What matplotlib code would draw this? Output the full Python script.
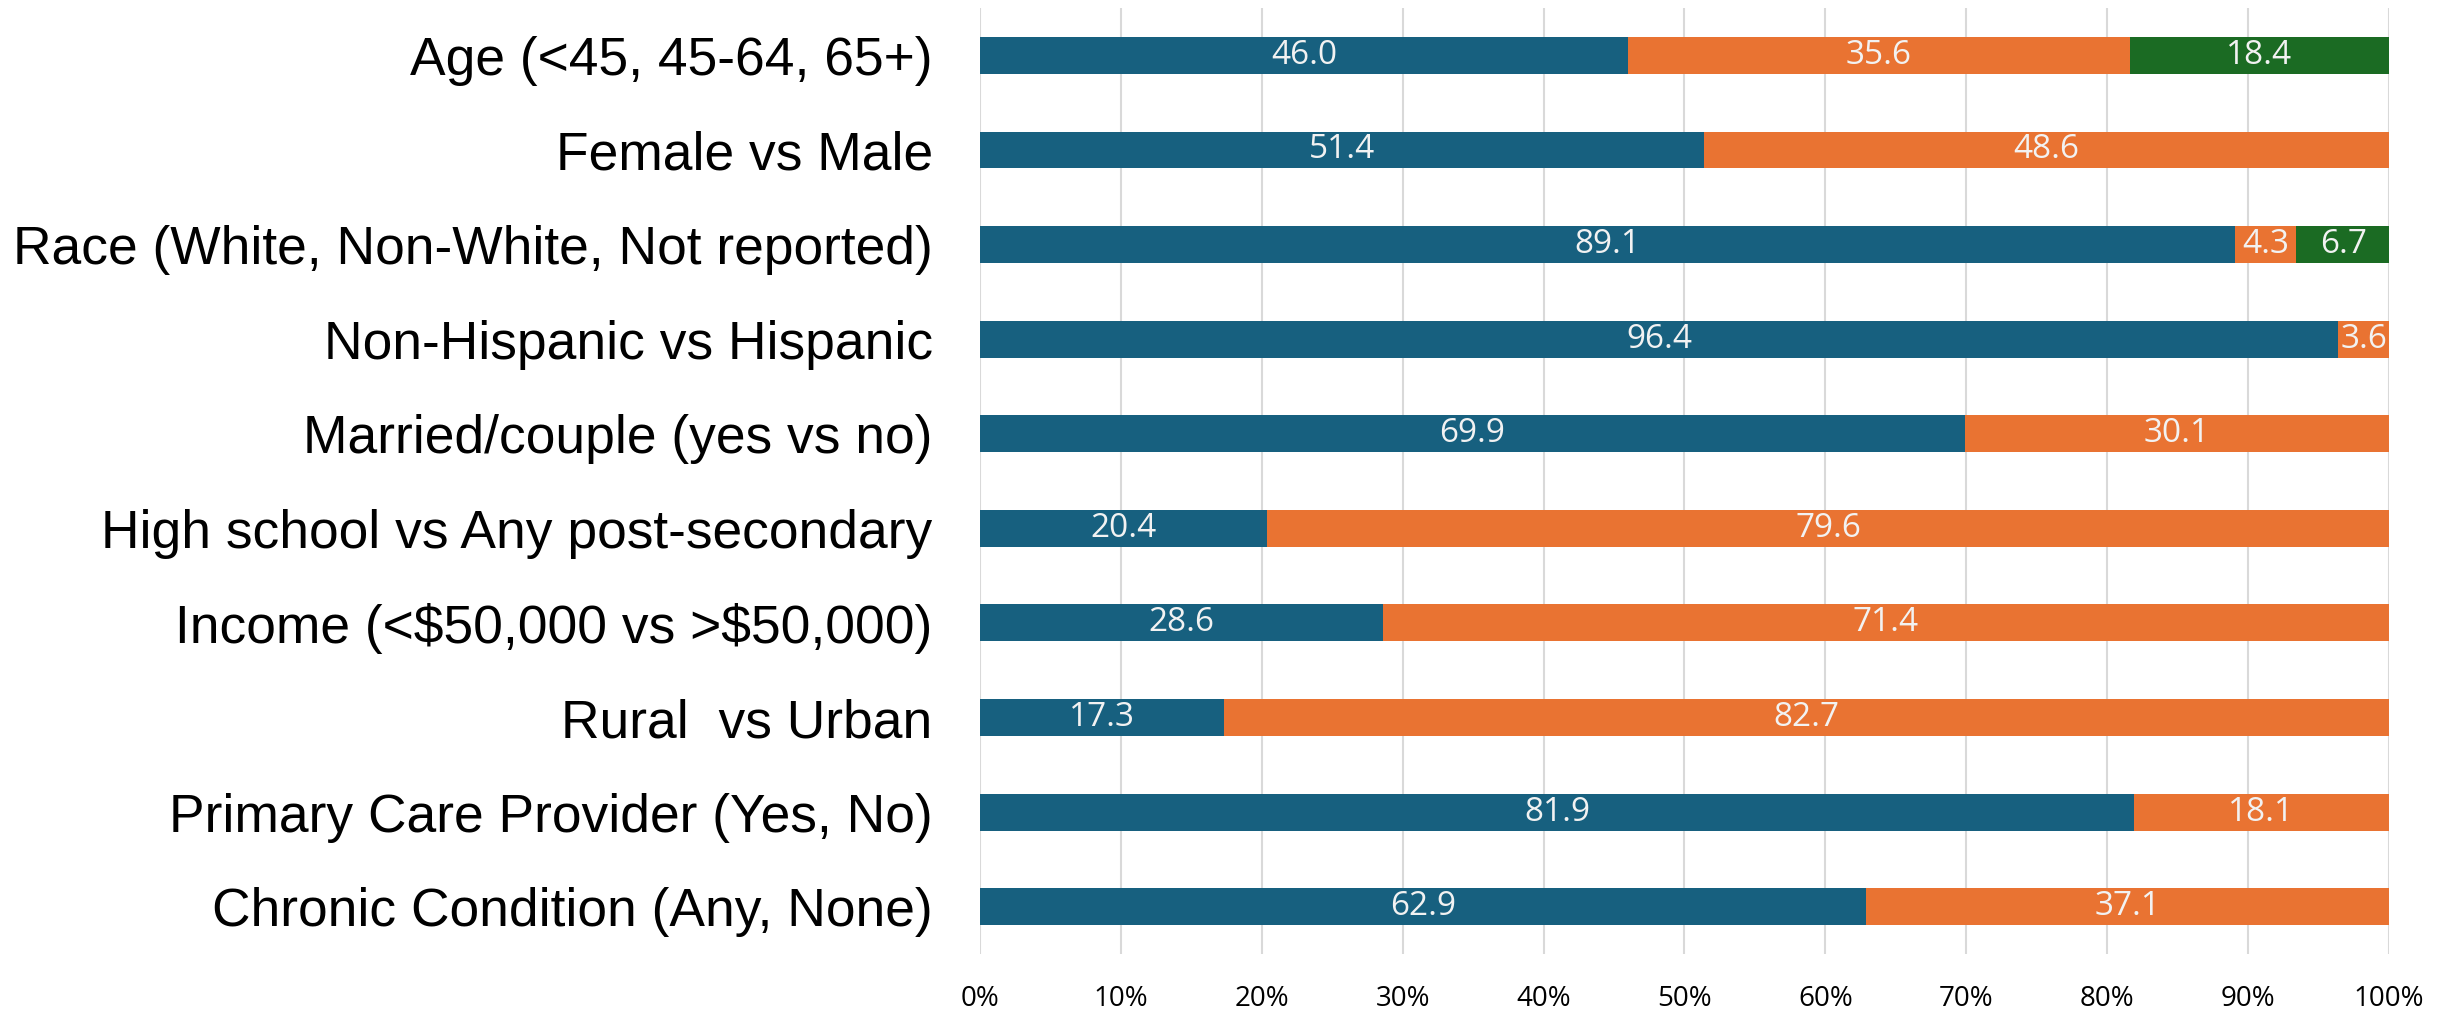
import matplotlib
matplotlib.use("Agg")
import matplotlib.pyplot as plt
import numpy as np

categories = [
    "Age (<45, 45-64, 65+)",
    "Female vs Male",
    "Race (White, Non-White, Not reported)",
    "Non-Hispanic vs Hispanic",
    "Married/couple (yes vs no)",
    "High school vs Any post-secondary",
    "Income (<\\$50,000 vs >\\$50,000)",
    "Rural  vs Urban",
    "Primary Care Provider (Yes, No)",
    "Chronic Condition (Any, None)",
]
series1 = [46.0, 51.4, 89.1, 96.4, 69.9, 20.4, 28.6, 17.3, 81.9, 62.9]
series2 = [35.6, 48.6, 4.3, 3.6, 30.1, 79.6, 71.4, 82.7, 18.1, 37.1]
series3 = [18.4, 0, 6.7, 0, 0, 0, 0, 0, 0, 0]
xticks = [0, 10, 20, 30, 40, 50, 60, 70, 80, 90, 100]

colors = ["#17607F", "#E97332", "#1B6B23"]

fig = plt.figure(figsize=(24.43, 10.09), dpi=100)
ax = fig.add_axes([0.4011, 0.0545, 0.5768, 0.9375])

y = np.arange(len(categories))
left = np.zeros(len(categories))
label_font = ["Open Sans", "DejaVu Sans"]
for vals, col in zip([series1, series2, series3], colors):
    vals = np.array(vals, dtype=float)
    bars = ax.barh(y, vals, left=left, height=0.39, color=col, zorder=3)
    for b, v in zip(bars, vals):
        if v > 0:
            ax.text(b.get_x() + b.get_width() / 2, b.get_y() + b.get_height() / 2,
                    f"{v:.1f}", ha="center", va="center", color="#F2F2F2",
                    fontsize=24, family=label_font, zorder=4)
    left += vals

ax.set_xlim(0, 100)
ax.set_ylim(9.5, -0.5)
ax.set_xticks(xticks)
ax.set_xticklabels([f"{t}%" for t in xticks], family=label_font, fontsize=20)
ax.set_yticks(y)
ax.set_yticklabels(categories, family=["Liberation Sans", "DejaVu Sans"], fontsize=38.4)
ax.tick_params(axis="x", length=0, pad=22)
ax.tick_params(axis="y", length=0, pad=34)
ax.grid(axis="x", color="#D9D9D9", linewidth=1.5, zorder=0)
ax.grid(axis="y", visible=False)
for s in ax.spines.values():
    s.set_visible(False)

fig.savefig("out.png", dpi=100, facecolor="white")
